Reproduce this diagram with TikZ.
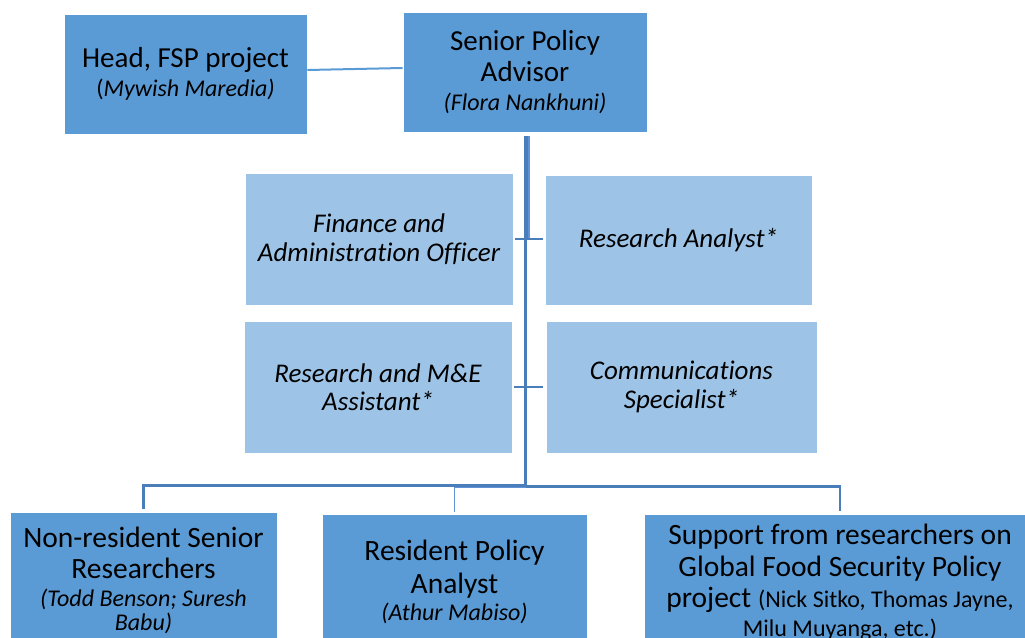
\documentclass[tikz,border=0pt]{standalone}
\usepackage{fontspec}
\setmainfont{Carlito}[Ligatures=NoCommon]
\usetikzlibrary{calc}

\definecolor{boxdark}{RGB}{91,155,213}
\definecolor{boxlight}{RGB}{157,195,230}
\definecolor{linkblue}{RGB}{74,126,187}
\definecolor{linklight}{RGB}{96,146,214}

% smaller line for the names under a post
\newcommand\pname[1]{{\fontsize{24}{26}\selectfont\itshape #1}}
\newcommand\pnote[1]{{\fontsize{24}{26}\selectfont #1}}

\tikzset{
  darkbox/.style={rectangle, fill=boxdark, draw=white, line width=0.8pt,
    inner sep=0pt, align=center, font=\fontsize{29}{31.5}\selectfont},
  bottombox/.style={darkbox, anchor=north, minimum height=136,
    font=\fontsize{29.5}{31.5}\selectfont},
  lightbox/.style={rectangle, fill=boxlight, draw=white, line width=0.8pt,
    inner sep=0pt, align=center, font=\fontsize{27}{28.5}\selectfont\itshape},
  link/.style={draw=linkblue, line width=2.6pt},
  thinlink/.style={draw=linklight, line width=1.6pt},
}

\begin{document}
\begin{tikzpicture}[x=1pt, y=-1pt]
\useasboundingbox (0,0) rectangle (1025,637);
\clip (0,0) rectangle (1025,637);

% top row
\node[darkbox, minimum width=243, minimum height=120] (head) at (185.5,74)
  {Head, FSP project\\[-3pt]\pnote{(}\pname{Mywish Maredia)}};
\node[darkbox, minimum width=244, minimum height=120] (spa) at (525,72)
  {Senior Policy\\Advisor\\[-3pt]\pname{(Flora Nankhuni)}};

% staff posts beside the trunk
\node[lightbox, minimum width=268, minimum height=132] (fin) at (379,239)
  {Finance and\\Administration Officer};
\node[lightbox, minimum width=267, minimum height=130] (ra) at (678.5,240)
  {Research Analyst*};
\node[lightbox, minimum width=268, minimum height=132] (mne) at (378,387)
  {Research and M\&E\\Assistant*};
\node[lightbox, minimum width=271, minimum height=132] (comm) at (681.5,387)
  {Communications\\Specialist*};

% bottom row
\node[bottombox, minimum width=267] (nonres) at (143.5,512)
  {Non-resident Senior\\Researchers\\[-4pt]\pname{(Todd Benson; Suresh}\\[-7pt]\pname{Babu)}};
\node[bottombox, minimum width=265] (mid) at (454.5,514)
  {Resident Policy\\[1pt]Analyst\\[-4pt]\pname{(Athur Mabiso)}};
\node[bottombox, minimum width=392] (support) at (840,514)
  {Support from researchers on\\Global Food Security Policy\\project \pnote{(Nick Sitko, Thomas Jayne,}\\[-3pt]\pnote{Milu Muyanga, etc.)}};

% head to senior advisor
\draw[draw=boxdark, line width=2pt] ($(head.east)+(0,-4)$) -- ($(spa.west)+(0,-4)$);

% trunk under the senior advisor
\coordinate (hub) at (525.5,485.5);
\draw[link, line width=5pt] ([xshift=2pt,yshift=-4pt]spa.south) -- ([xshift=2pt]spa.south |- fin.east);
\draw[draw=linklight, line width=1.6pt] ([xshift=4pt,yshift=-4pt]spa.south) -- ([xshift=4pt]spa.south |- fin.east);
\draw[link] ([xshift=0.5pt,yshift=-4pt]spa.south) -- (hub);

% stubs to the staff posts
\draw[link] ([xshift=2pt]fin.east) -- ([xshift=-2pt]ra.west |- fin.east);
\draw[link] ([xshift=2pt]mne.east) -- ([xshift=-3pt]comm.west |- mne.east);

% branches to the bottom row
\draw[link] (hub) -| ([yshift=3pt]nonres.north);
\draw[link] ([yshift=-1pt]hub) -| ([yshift=3pt]support.north);
\draw[thinlink] ([yshift=-2pt]hub) -| ([yshift=2pt]mid.north);
\end{tikzpicture}
\end{document}
